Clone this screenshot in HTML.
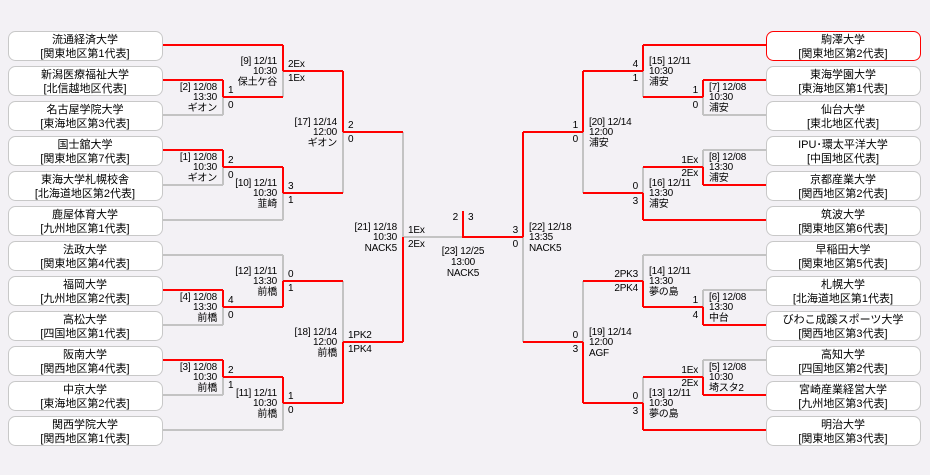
<!DOCTYPE html>
<html><head><meta charset="utf-8"><style>
html,body{margin:0;padding:0;background:#f3f1f5;}
svg{display:block;}
text{font-family:"Liberation Sans","Noto Sans CJK JP",sans-serif;fill:#000;}
.i{font-size:10px;letter-spacing:-0.2px;}
.b{font-size:11px;text-anchor:middle;}
.r{text-anchor:end;}
.m{text-anchor:middle;}
</style></head><body>
<svg width="930" height="475" viewBox="0 0 930 475" xmlns="http://www.w3.org/2000/svg">
<rect width="930" height="475" fill="#f3f1f5"/>
<!-- boxes left -->
<g fill="#fff" stroke="#c8c8c8" stroke-width="1">
<rect x="8.5" y="31.5" width="154" height="29" rx="7"/>
<rect x="8.5" y="66.5" width="154" height="29" rx="7"/>
<rect x="8.5" y="101.5" width="154" height="29" rx="7"/>
<rect x="8.5" y="136.5" width="154" height="29" rx="7"/>
<rect x="8.5" y="171.5" width="154" height="29" rx="7"/>
<rect x="8.5" y="206.5" width="154" height="29" rx="7"/>
<rect x="8.5" y="241.5" width="154" height="29" rx="7"/>
<rect x="8.5" y="276.5" width="154" height="29" rx="7"/>
<rect x="8.5" y="311.5" width="154" height="29" rx="7"/>
<rect x="8.5" y="346.5" width="154" height="29" rx="7"/>
<rect x="8.5" y="381.5" width="154" height="29" rx="7"/>
<rect x="8.5" y="416.5" width="154" height="29" rx="7"/>
<rect x="766.5" y="31.5" width="154" height="29" rx="7" stroke="#f00"/>
<rect x="766.5" y="66.5" width="154" height="29" rx="7"/>
<rect x="766.5" y="101.5" width="154" height="29" rx="7"/>
<rect x="766.5" y="136.5" width="154" height="29" rx="7"/>
<rect x="766.5" y="171.5" width="154" height="29" rx="7"/>
<rect x="766.5" y="206.5" width="154" height="29" rx="7"/>
<rect x="766.5" y="241.5" width="154" height="29" rx="7"/>
<rect x="766.5" y="276.5" width="154" height="29" rx="7"/>
<rect x="766.5" y="311.5" width="154" height="29" rx="7"/>
<rect x="766.5" y="346.5" width="154" height="29" rx="7"/>
<rect x="766.5" y="381.5" width="154" height="29" rx="7"/>
<rect x="766.5" y="416.5" width="154" height="29" rx="7"/>
</g>
<!-- gray lines -->
<path fill="none" stroke="#c3c3c3" stroke-width="2" d="
M163 115H223 M163 185H223 M163 220H283 M163 255H283 M163 325H223 M163 395H223 M163 430H283
M223 97V115 M223 167V185 M223 307V325 M223 377V395
M283 71V97 M283 193V220 M283 255V281 M283 403V430
M343 132V193 M343 281V342
M403 132V237 M403 237H463
M766 115H703 M766 150H703 M766 255H643 M766 290H703 M766 360H703
M703 97V115 M703 150V167 M703 290V307 M703 360V377
M643 71V97 M643 167V193 M643 255V281 M643 377V403
M583 132V193 M583 281V342
M523 237V342"/>
<!-- red lines -->
<path fill="none" stroke="#ff0000" stroke-width="2" d="
M163 45H283 M163 80H223 M163 150H223 M163 290H223 M163 360H223
M223 80V97 M223 150V167 M223 290V307 M223 360V377
M223 97H283 M223 167H283 M223 307H283 M223 377H283
M283 45V71 M283 167V193 M283 281V307 M283 377V403
M283 71H343 M283 193H343 M283 281H343 M283 403H343
M343 71V132 M343 342V403
M343 132H403 M343 342H403
M403 237V342
M463 211V237H523
M766 45H643 M766 80H703 M766 185H703 M766 220H643 M766 325H703 M766 395H703 M766 430H643
M703 80V97 M703 167V185 M703 307V325 M703 377V395
M703 97H643 M703 167H643 M703 307H643 M703 377H643
M643 45V71 M643 193V220 M643 281V307 M643 403V430
M643 71H583 M643 193H583 M643 281H583 M643 403H583
M583 71V132 M583 342V403
M583 132H523 M583 342H523
M523 132V237"/>
<!-- team names left -->
<g class="b">
<text x="85" y="43">流通経済大学</text><text x="85" y="57">[関東地区第1代表]</text>
<text x="85" y="78">新潟医療福祉大学</text><text x="85" y="92">[北信越地区代表]</text>
<text x="85" y="113">名古屋学院大学</text><text x="85" y="127">[東海地区第3代表]</text>
<text x="85" y="148">国士舘大学</text><text x="85" y="162">[関東地区第7代表]</text>
<text x="85" y="183">東海大学札幌校舎</text><text x="85" y="197">[北海道地区第2代表]</text>
<text x="85" y="218">鹿屋体育大学</text><text x="85" y="232">[九州地区第1代表]</text>
<text x="85" y="253">法政大学</text><text x="85" y="267">[関東地区第4代表]</text>
<text x="85" y="288">福岡大学</text><text x="85" y="302">[九州地区第2代表]</text>
<text x="85" y="323">高松大学</text><text x="85" y="337">[四国地区第1代表]</text>
<text x="85" y="358">阪南大学</text><text x="85" y="372">[関西地区第4代表]</text>
<text x="85" y="393">中京大学</text><text x="85" y="407">[東海地区第2代表]</text>
<text x="85" y="428">関西学院大学</text><text x="85" y="442">[関西地区第1代表]</text>
<text x="843" y="43">駒澤大学</text><text x="843" y="57">[関東地区第2代表]</text>
<text x="843" y="78">東海学園大学</text><text x="843" y="92">[東海地区第1代表]</text>
<text x="843" y="113">仙台大学</text><text x="843" y="127">[東北地区代表]</text>
<text x="843" y="148">IPU･環太平洋大学</text><text x="843" y="162">[中国地区代表]</text>
<text x="843" y="183">京都産業大学</text><text x="843" y="197">[関西地区第2代表]</text>
<text x="843" y="218">筑波大学</text><text x="843" y="232">[関東地区第6代表]</text>
<text x="843" y="253">早稲田大学</text><text x="843" y="267">[関東地区第5代表]</text>
<text x="843" y="288">札幌大学</text><text x="843" y="302">[北海道地区第1代表]</text>
<text x="843" y="323">びわこ成蹊スポーツ大学</text><text x="843" y="337">[関西地区第3代表]</text>
<text x="843" y="358">高知大学</text><text x="843" y="372">[四国地区第2代表]</text>
<text x="843" y="393">宮崎産業経営大学</text><text x="843" y="407">[九州地区第3代表]</text>
<text x="843" y="428">明治大学</text><text x="843" y="442">[関東地区第3代表]</text>
</g>
<!-- left info -->
<g class="i r">
<text x="217" y="90">[2] 12/08</text><text x="217" y="100">13:30</text><text x="217" y="111">ギオン</text>
<text x="217" y="160">[1] 12/08</text><text x="217" y="170">10:30</text><text x="217" y="181">ギオン</text>
<text x="217" y="300">[4] 12/08</text><text x="217" y="310">13:30</text><text x="217" y="321">前橋</text>
<text x="217" y="370">[3] 12/08</text><text x="217" y="380">10:30</text><text x="217" y="391">前橋</text>
<text x="277" y="64">[9] 12/11</text><text x="277" y="74">10:30</text><text x="277" y="85">保土ケ谷</text>
<text x="277" y="186">[10] 12/11</text><text x="277" y="196">10:30</text><text x="277" y="207">韮崎</text>
<text x="277" y="274">[12] 12/11</text><text x="277" y="284">13:30</text><text x="277" y="295">前橋</text>
<text x="277" y="396">[11] 12/11</text><text x="277" y="406">10:30</text><text x="277" y="417">前橋</text>
<text x="337" y="125">[17] 12/14</text><text x="337" y="135">12:00</text><text x="337" y="146">ギオン</text>
<text x="337" y="335">[18] 12/14</text><text x="337" y="345">12:00</text><text x="337" y="356">前橋</text>
<text x="397" y="230">[21] 12/18</text><text x="397" y="240">10:30</text><text x="397" y="251">NACK5</text>
</g>
<!-- left scores -->
<g class="i">
<text x="228" y="93">1</text><text x="228" y="108">0</text>
<text x="228" y="163">2</text><text x="228" y="178">0</text>
<text x="228" y="303">4</text><text x="228" y="318">0</text>
<text x="228" y="373">2</text><text x="228" y="388">1</text>
<text x="288" y="67">2Ex</text><text x="288" y="81">1Ex</text>
<text x="288" y="189">3</text><text x="288" y="203">1</text>
<text x="288" y="277">0</text><text x="288" y="291">1</text>
<text x="288" y="399">1</text><text x="288" y="413">0</text>
<text x="348" y="128">2</text><text x="348" y="142">0</text>
<text x="348" y="338">1PK2</text><text x="348" y="352">1PK4</text>
<text x="408" y="233">1Ex</text><text x="408" y="247">2Ex</text>
</g>
<!-- right info -->
<g class="i">
<text x="709" y="90">[7] 12/08</text><text x="709" y="100">10:30</text><text x="709" y="111">浦安</text>
<text x="709" y="160">[8] 12/08</text><text x="709" y="170">13:30</text><text x="709" y="181">浦安</text>
<text x="709" y="300">[6] 12/08</text><text x="709" y="310">13:30</text><text x="709" y="321">中台</text>
<text x="709" y="370">[5] 12/08</text><text x="709" y="380">10:30</text><text x="709" y="391">埼スタ2</text>
<text x="649" y="64">[15] 12/11</text><text x="649" y="74">10:30</text><text x="649" y="85">浦安</text>
<text x="649" y="186">[16] 12/11</text><text x="649" y="196">13:30</text><text x="649" y="207">浦安</text>
<text x="649" y="274">[14] 12/11</text><text x="649" y="284">13:30</text><text x="649" y="295">夢の島</text>
<text x="649" y="396">[13] 12/11</text><text x="649" y="406">10:30</text><text x="649" y="417">夢の島</text>
<text x="589" y="125">[20] 12/14</text><text x="589" y="135">12:00</text><text x="589" y="146">浦安</text>
<text x="589" y="335">[19] 12/14</text><text x="589" y="345">12:00</text><text x="589" y="356">AGF</text>
<text x="529" y="230">[22] 12/18</text><text x="529" y="240">13:35</text><text x="529" y="251">NACK5</text>
</g>
<!-- right scores -->
<g class="i r">
<text x="698" y="93">1</text><text x="698" y="108">0</text>
<text x="698" y="163">1Ex</text><text x="698" y="176">2Ex</text>
<text x="698" y="303">1</text><text x="698" y="318">4</text>
<text x="698" y="373">1Ex</text><text x="698" y="386">2Ex</text>
<text x="638" y="67">4</text><text x="638" y="81">1</text>
<text x="638" y="189">0</text><text x="638" y="204">3</text>
<text x="638" y="277">2PK3</text><text x="638" y="291">2PK4</text>
<text x="638" y="399">0</text><text x="638" y="414">3</text>
<text x="578" y="128">1</text><text x="578" y="142">0</text>
<text x="578" y="338">0</text><text x="578" y="352">3</text>
<text x="518" y="233">3</text><text x="518" y="247">0</text>
<text x="458" y="220">2</text>
</g>
<g class="i">
<text x="468" y="220">3</text>
</g>
<g class="i m">
<text x="463" y="254">[23] 12/25</text><text x="463" y="265">13:00</text><text x="463" y="276">NACK5</text>
</g>
</svg>
</body></html>
